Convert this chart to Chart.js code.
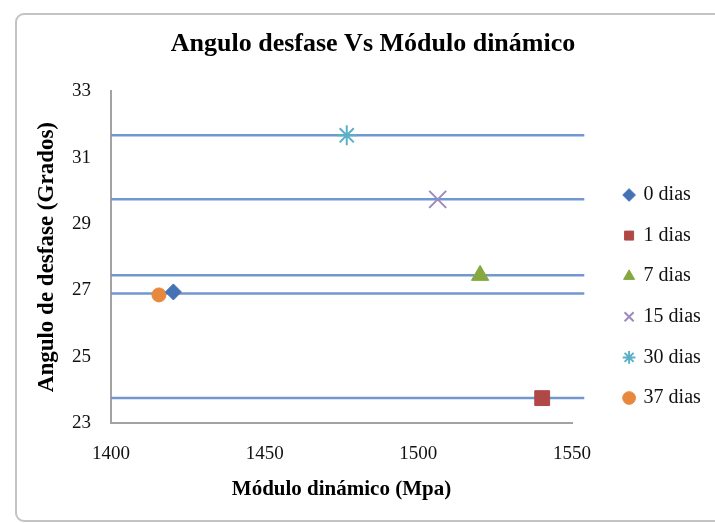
<!DOCTYPE html>
<html>
<head>
<meta charset="utf-8">
<script src="https://cdn.jsdelivr.net/npm/chart.js@4.4.0/dist/chart.umd.min.js"></script>
<style>
    html, body { margin: 0; padding: 0; background: #fff; }
    body { width: 715px; height: 523px; position: relative; overflow: hidden; }
    #frame {
        position: absolute; left: 15px; top: 13px; width: 740px; height: 509px;
        border: 2px solid #c3c3c3; border-radius: 9px; box-sizing: border-box;
    }
    #wrap { position: absolute; left: 0; top: 0; width: 715px; height: 523px; }
</style>
</head>
<body>
<div id="frame"></div>
<div id="wrap"><canvas id="chart"></canvas></div>
<script>
// Values
const seriesNames = ['0 dias', '1 dias', '7 dias', '15 dias', '30 dias', '37 dias'];
const moduloValues = [1420.3, 1540.3, 1520.1, 1506.3, 1476.7, 1415.6];
const anguloValues = [26.95, 23.75, 27.45, 29.74, 31.67, 26.86];

// Horizontal blue lines (start / end on the x axis, level on y)
const lineLevels = [31.67, 29.74, 27.45, 26.9, 23.75];
const lineFrom = 1400;
const lineTo = 1554;

// Axis ticks
const xTicks = [1400, 1450, 1500, 1550];
const yTicks = [23, 25, 27, 29, 31, 33];

// Marker look per series
const markerStyles = ['rectRot', 'rect', 'triangle', 'crossRot', 'star', 'circle'];
const markerColors = ['#4472b4', '#b04848', '#86a83f', '#9d8abf', '#5bb0c8', '#e8873e'];
const markerSizes = [8, 10.5, 10, 12, 10, 7];

const serif = 'Liberation Serif, Times New Roman, serif';
const textColor = '#111';
const axisColor = '#a3a3a3';

const pointSets = seriesNames.map((name, i) => {
    const stroked = markerStyles[i] === 'crossRot' || markerStyles[i] === 'star';
    return {
        label: name,
        data: [{ x: moduloValues[i], y: anguloValues[i] }],
        pointStyle: markerStyles[i],
        pointRadius: markerSizes[i],
        pointHoverRadius: markerSizes[i],
        backgroundColor: markerColors[i],
        borderColor: markerColors[i],
        borderWidth: stroked ? 2 : 1
    };
});

const lineSets = lineLevels.map(level => ({
    label: '',
    data: [{ x: lineFrom, y: level }, { x: lineTo, y: level }],
    showLine: true,
    pointRadius: 0,
    pointHoverRadius: 0,
    borderColor: '#7097cf',
    borderWidth: 2.5,
    clip: false
}));

// Put the title and the legend where the spreadsheet had them
const placeBoxes = {
    id: 'placeBoxes',
    afterLayout(chart) {
        const t = chart.titleBlock;
        t.left = 31;
        t.right = 715;
        const lg = chart.legend;
        const w = lg.width, h = lg.height;
        lg.left = 604;
        lg.top = 164.4;
        lg.right = lg.left + w;
        lg.bottom = lg.top + h;
    }
};

new Chart(document.getElementById('chart'), {
    type: 'scatter',
    data: { datasets: pointSets.concat(lineSets) },
    plugins: [placeBoxes],
    options: {
        responsive: true,
        maintainAspectRatio: false,
        animation: false,
        layout: { padding: { left: 31, right: 143, top: 0, bottom: 0 } },
        plugins: {
            title: {
                display: true,
                text: 'Angulo desfase Vs Módulo dinámico',
                color: '#000',
                font: { family: serif, size: 26, weight: 'bold' },
                padding: { top: 29, bottom: 31 }
            },
            legend: {
                position: 'chartArea',
                align: 'start',
                labels: {
                    usePointStyle: true,
                    boxWidth: 9,
                    boxHeight: 9,
                    padding: 20.6,
                    color: textColor,
                    font: { family: serif, size: 20 },
                    filter: item => item.datasetIndex < seriesNames.length
                }
            },
            tooltip: { enabled: false }
        },
        scales: {
            x: {
                type: 'linear',
                min: 1400,
                max: 1550,
                afterBuildTicks: s => { s.ticks = xTicks.map(v => ({ value: v })); },
                afterFit: s => { s.height = 100; },
                grid: { display: false, drawTicks: false },
                border: { display: true, color: axisColor, width: 2 },
                ticks: {
                    color: textColor,
                    padding: 20,
                    maxRotation: 0,
                    autoSkip: false,
                    callback: v => String(v),
                    font: { family: serif, size: 19 }
                },
                title: {
                    display: true,
                    text: 'Módulo dinámico (Mpa)',
                    color: '#000',
                    font: { family: serif, size: 21, weight: 'bold' },
                    padding: { top: 0, bottom: 20.4 }
                }
            },
            y: {
                type: 'linear',
                min: 23,
                max: 33,
                afterBuildTicks: s => { s.ticks = yTicks.map(v => ({ value: v })); },
                afterFit: s => { s.width = 80; },
                grid: { display: false, drawTicks: false },
                border: { display: true, color: axisColor, width: 2 },
                ticks: {
                    color: textColor,
                    padding: 20,
                    autoSkip: false,
                    callback: v => String(v),
                    font: { family: serif, size: 19 }
                },
                title: {
                    display: true,
                    text: 'Angulo de desfase (Grados)',
                    color: '#000',
                    font: { family: serif, size: 23, weight: 'bold' },
                    padding: { top: 2, bottom: 0 }
                }
            }
        }
    }
});
</script>
</body>
</html>
